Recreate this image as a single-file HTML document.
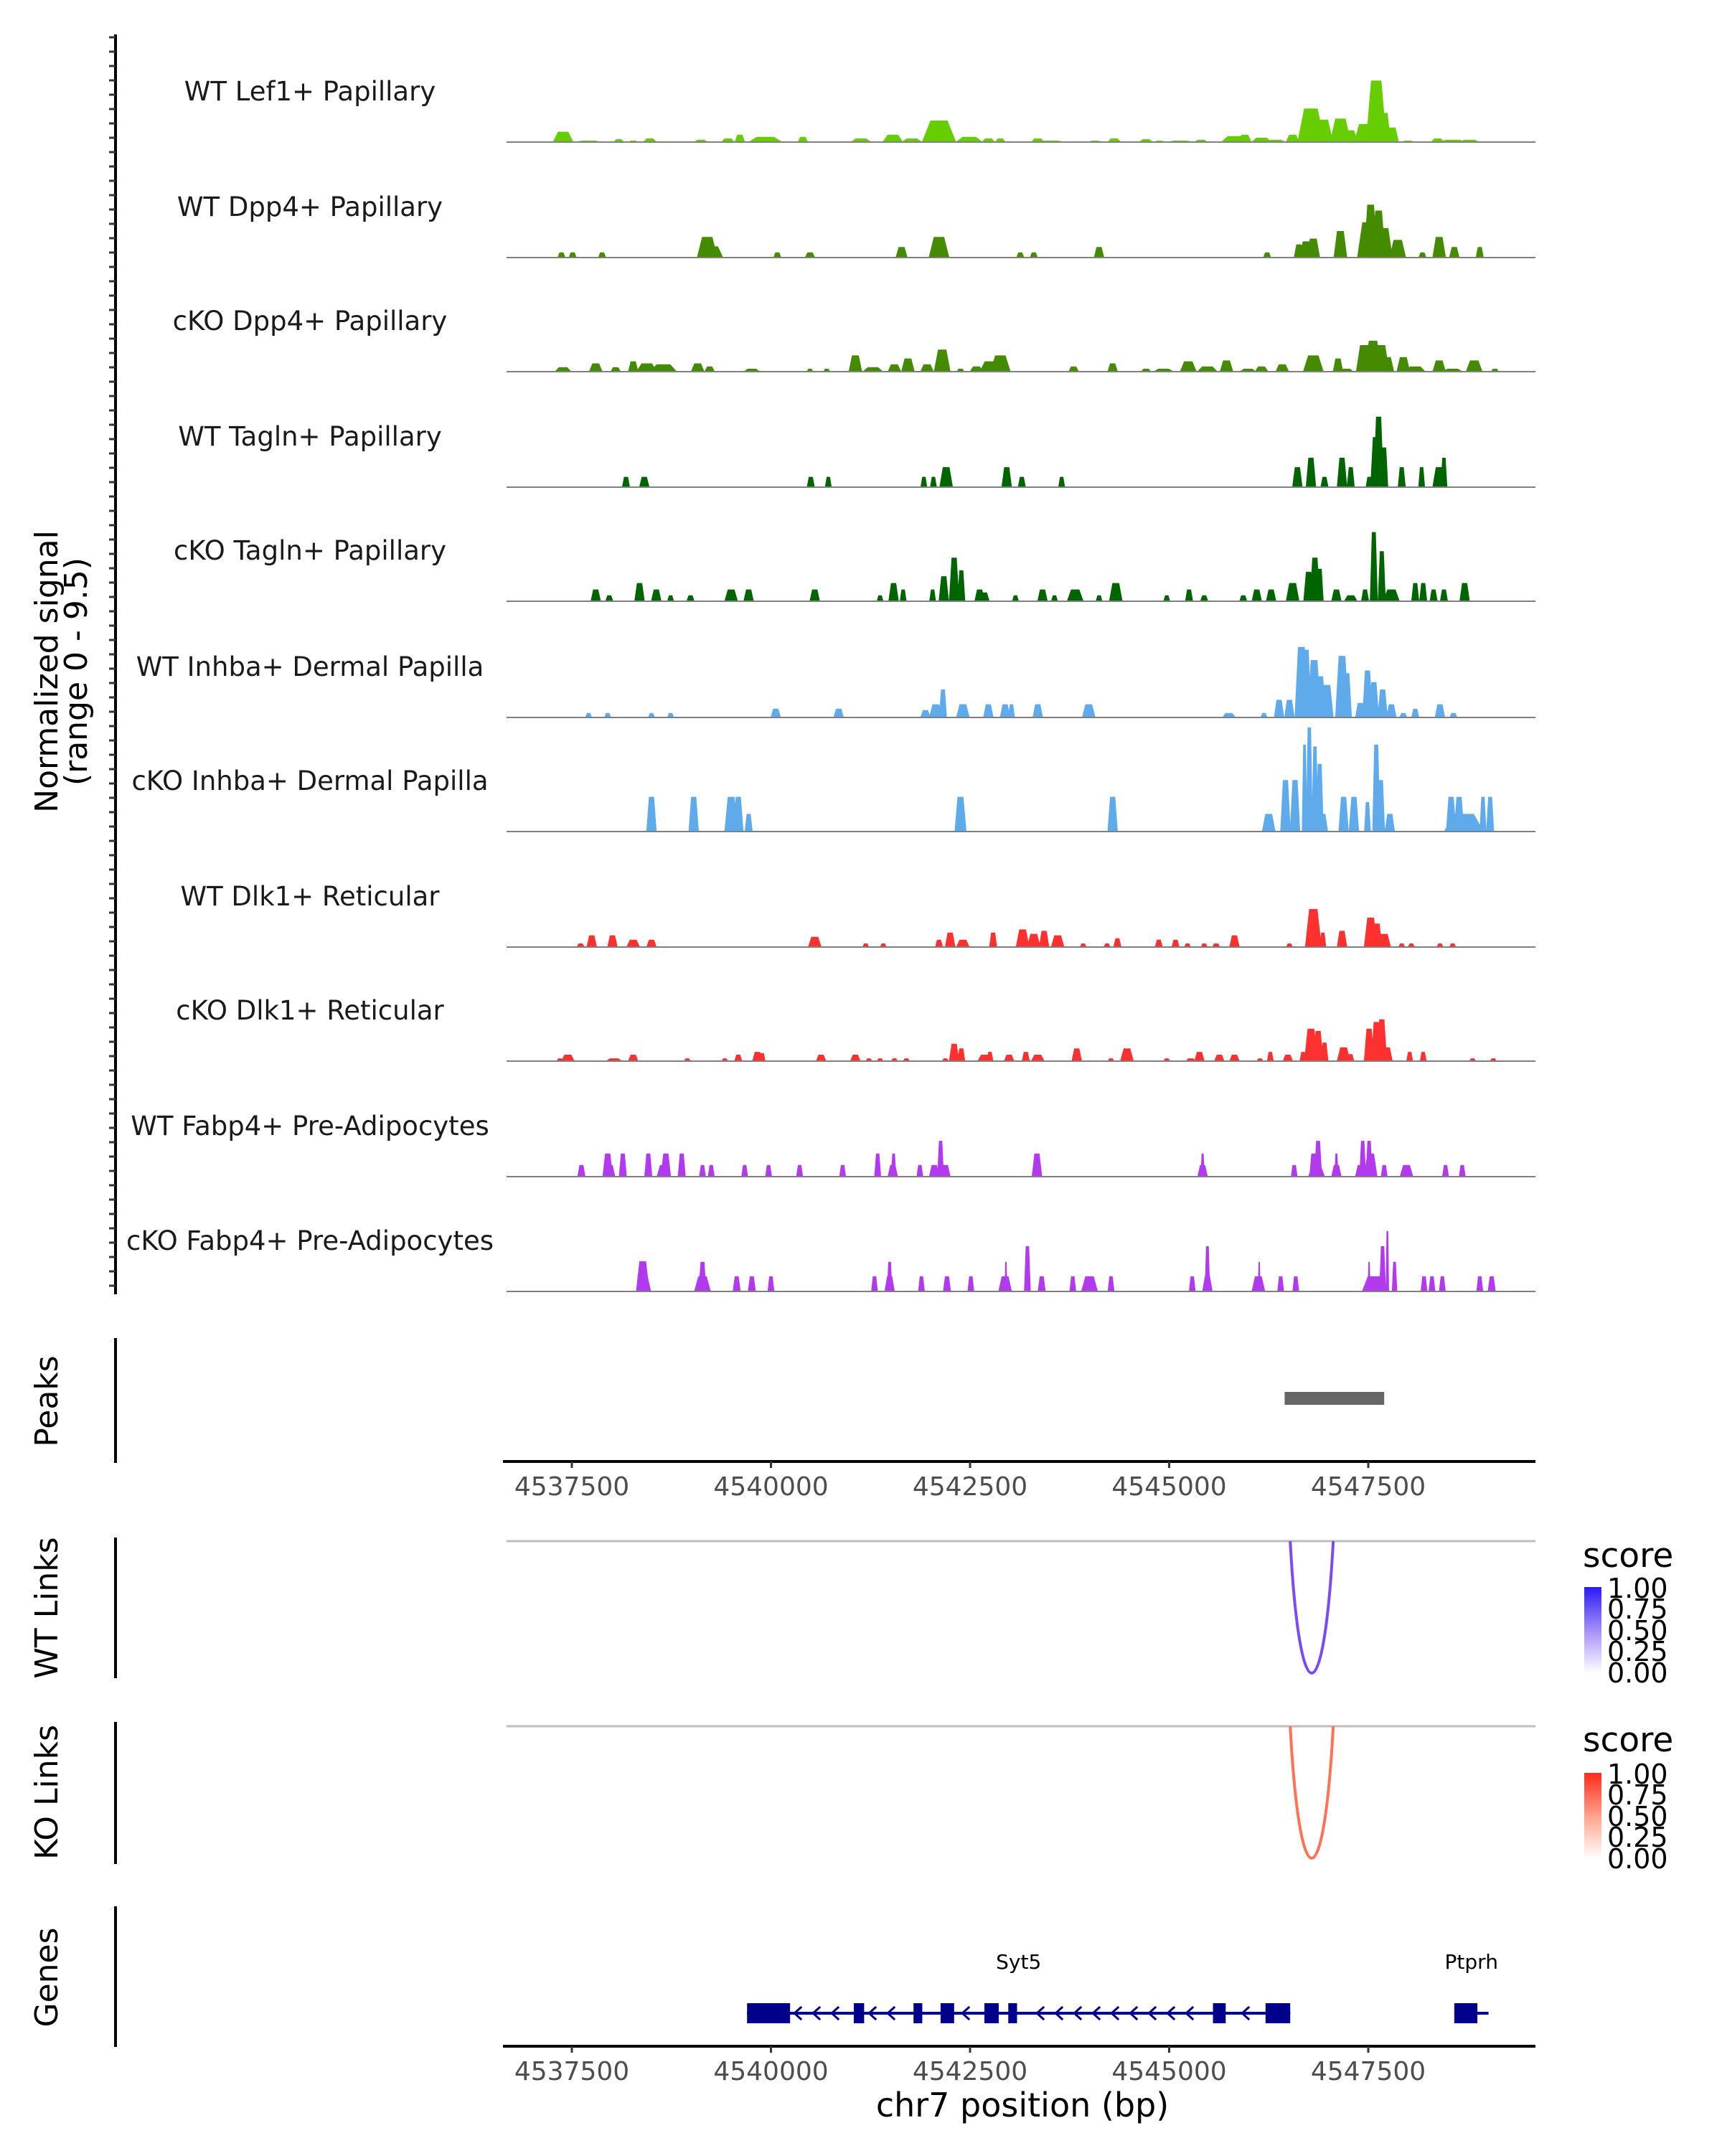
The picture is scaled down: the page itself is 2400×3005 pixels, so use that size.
<!DOCTYPE html>
<html><head><meta charset="utf-8"><style>
body{margin:0;background:#fff}
svg text{font-family:"DejaVu Sans","Liberation Sans",sans-serif}
</style></head><body>
<svg id="fig" xmlns="http://www.w3.org/2000/svg" width="2400" height="3000" viewBox="0 0 2400 3000">
<rect width="2400" height="3000" fill="#fff"/>
<g id="tracks"></g>
<g id="leftaxis"></g>
<text transform="translate(80,936) rotate(-90)" text-anchor="middle" font-size="44" fill="#000">Normalized signal</text>
<text transform="translate(121,936) rotate(-90)" text-anchor="middle" font-size="44" fill="#000">(range 0 - 9.5)</text>

<line x1="161" y1="1865" x2="161" y2="2039" stroke="#000" stroke-width="4"/>
<text transform="translate(80,1953) rotate(-90)" text-anchor="middle" font-size="44">Peaks</text>
<g id="peaks"></g>
<g id="topx"></g>

<line x1="161" y1="2143" x2="161" y2="2339" stroke="#000" stroke-width="4"/>
<text transform="translate(80,2241) rotate(-90)" text-anchor="middle" font-size="44">WT Links</text>
<line x1="161" y1="2400" x2="161" y2="2598" stroke="#000" stroke-width="4"/>
<text transform="translate(80,2498) rotate(-90)" text-anchor="middle" font-size="44">KO Links</text>
<g id="links"></g>

<defs>
<linearGradient id="gb" x1="0" y1="0" x2="0" y2="1"><stop offset="0" stop-color="#2a1af7"/><stop offset="0.5" stop-color="#a48ff7"/><stop offset="1" stop-color="#ffffff"/></linearGradient>
<linearGradient id="gr" x1="0" y1="0" x2="0" y2="1"><stop offset="0" stop-color="#ff2a1a"/><stop offset="0.5" stop-color="#ffa28c"/><stop offset="1" stop-color="#ffffff"/></linearGradient>
</defs>
<g>
<text x="2206" y="2184" font-size="47">score</text>
<rect x="2208" y="2212" width="24" height="120" fill="url(#gb)"/>
<g font-size="38" fill="#000" dominant-baseline="central">
<text x="2240" y="2214">1.00</text><text x="2240" y="2243">0.75</text><text x="2240" y="2273">0.50</text><text x="2240" y="2302">0.25</text><text x="2240" y="2332">0.00</text></g>
</g>
<g>
<text x="2206" y="2441" font-size="47">score</text>
<rect x="2208" y="2471" width="24" height="120" fill="url(#gr)"/>
<g font-size="38" fill="#000" dominant-baseline="central">
<text x="2240" y="2473">1.00</text><text x="2240" y="2502">0.75</text><text x="2240" y="2532">0.50</text><text x="2240" y="2561">0.25</text><text x="2240" y="2591">0.00</text></g>
</g>

<line x1="161" y1="2657" x2="161" y2="2853" stroke="#000" stroke-width="4"/>
<text transform="translate(80,2756) rotate(-90)" text-anchor="middle" font-size="44">Genes</text>
<g id="genes"></g>
<g id="botx"></g>
<text x="1425" y="2950" text-anchor="middle" font-size="46">chr7 position (bp)</text>
</svg>
<script>
// ---- data (positions in kb on chr7, widths in kb, values = normalized signal) ----
const trackNames = ["WT Lef1+ Papillary","WT Dpp4+ Papillary","cKO Dpp4+ Papillary","WT Tagln+ Papillary","cKO Tagln+ Papillary","WT Inhba+ Dermal Papilla","cKO Inhba+ Dermal Papilla","WT Dlk1+ Reticular","cKO Dlk1+ Reticular","WT Fabp4+ Pre-Adipocytes","cKO Fabp4+ Pre-Adipocytes"];
const trackColors = ["#66cd00","#458b00","#458b00","#006400","#006400","#5eaaea","#5eaaea","#ff3030","#ff3030","#b23aee","#b23aee"];
const xTicks = [4537500,4540000,4542500,4545000,4547500];
const t1 = [[4537.39,.26,.92],[4537.71,.34,.13],[4538.09,.13,.26],[4538.27,.13,.13],[4538.48,.17,.32],[4539.12,.17,.21],[4539.46,.17,.32],[4539.61,.13,.66],[4539.93,.43,.47],[4540.40,.13,.47],[4541.13,.26,.32],[4541.53,.26,.66],[4541.77,.26,.32],[4542.11,.43,1.92],[4542.49,.34,.47],[4542.73,.17,.32],[4542.88,.13,.32],[4543.35,.17,.32],[4543.52,.34,.13],[4544.07,.17,.13],[4544.31,.17,.32],[4544.71,.17,.26],[4544.88,.13,.13],[4545.14,.34,.13],[4545.40,.17,.21],[4545.82,.34,.53],[4545.95,.17,.66],[4546.16,.26,.39],[4546.34,.26,.21],[4546.55,.17,.66],[4546.78,.34,3.0],[4546.93,.26,2.0],[4547.15,.26,2.1],[4547.28,.17,1.05],[4547.45,.26,1.6],[4547.60,.26,5.5],[4547.70,.17,2.6],[4547.80,.17,1.3],[4548.00,.17,.13],[4548.37,.17,.32],[4548.56,.34,.21],[4548.77,.26,.21]];
const t2 = [[4537.37,.10,.47],[4537.51,.10,.47],[4537.88,.10,.47],[4539.20,.26,1.84],[4539.27,.26,1.0],[4540.08,.10,.47],[4540.49,.13,.47],[4541.64,.15,.95],[4542.11,.26,1.84],[4543.13,.10,.47],[4543.30,.10,.47],[4544.12,.13,.95],[4546.23,.10,.47],[4546.63,.13,1.18],[4546.72,.17,1.45],[4546.81,.17,1.7],[4547.15,.17,2.37],[4547.49,.26,3.16],[4547.53,.17,4.73],[4547.63,.17,4.2],[4547.70,.21,2.63],[4547.87,.21,1.58],[4548.18,.10,.47],[4548.39,.17,1.84],[4548.58,.13,.95],[4548.90,.10,.95]];
const t3 = [[4537.39,.21,.4],[4537.80,.17,.74],[4538.05,.13,.4],[4538.27,.13,.92],[4538.44,.26,.74],[4538.65,.34,.66],[4539.08,.17,.74],[4539.23,.13,.47],[4539.76,.21,.26],[4540.49,.085,.26],[4540.70,.085,.26],[4541.06,.17,1.45],[4541.28,.26,.4],[4541.55,.17,.66],[4541.72,.17,1.18],[4541.96,.17,.66],[4542.15,.21,1.97],[4542.38,.10,.26],[4542.58,.17,.47],[4542.75,.26,.92],[4542.88,.26,1.45],[4543.80,.13,.47],[4544.29,.13,.74],[4544.71,.13,.26],[4544.93,.26,.26],[4545.24,.21,.92],[4545.48,.26,.47],[4545.72,.17,1.0],[4545.99,.21,.26],[4546.16,.17,.47],[4546.42,.17,.66],[4546.81,.26,1.45],[4547.12,.13,1.18],[4547.23,.17,.26],[4547.45,.21,2.37],[4547.56,.21,2.76],[4547.66,.21,2.37],[4547.74,.17,1.3],[4547.94,.17,1.3],[4548.09,.26,.47],[4548.39,.17,1.0],[4548.56,.26,.26],[4548.83,.21,1.0],[4549.09,.10,.26]];
const t4 = [[4538.18,.10,.92],[4538.41,.13,.92],[4540.50,.10,.92],[4540.72,.085,.92],[4541.92,.085,.92],[4542.04,.085,.92],[4542.20,.17,1.79],[4542.96,.13,1.79],[4543.15,.10,.92],[4543.65,.085,.92],[4546.61,.13,1.79],[4546.78,.13,2.63],[4546.95,.10,.92],[4547.17,.13,2.63],[4547.28,.10,1.79],[4547.51,.085,.92],[4547.59,.13,4.47],[4547.63,.13,6.3],[4547.70,.10,3.55],[4547.92,.10,1.79],[4548.17,.085,1.79],[4548.39,.17,1.79],[4548.45,.085,2.63]];
const t5 = [[4537.80,.13,1.05],[4537.97,.10,.53],[4538.35,.13,1.63],[4538.56,.13,1.05],[4538.74,.085,.53],[4538.99,.10,.53],[4539.50,.17,1.05],[4539.72,.13,1.05],[4540.55,.13,1.05],[4541.37,.085,.53],[4541.54,.13,1.63],[4541.66,.085,1.05],[4542.03,.085,1.05],[4542.17,.13,2.24],[4542.30,.13,3.9],[4542.39,.10,2.76],[4542.62,.13,1.05],[4542.68,.13,.79],[4543.07,.085,.53],[4543.41,.13,1.05],[4543.56,.085,.53],[4543.82,.21,1.05],[4544.12,.085,.53],[4544.33,.17,1.63],[4544.97,.085,.53],[4545.25,.10,1.05],[4545.44,.10,.53],[4545.93,.10,.53],[4546.10,.13,1.05],[4546.28,.13,1.05],[4546.55,.17,1.63],[4546.75,.13,2.63],[4546.83,.13,3.9],[4546.89,.10,2.9],[4547.10,.13,1.05],[4547.28,.17,.53],[4547.46,.10,1.05],[4547.57,.10,6.18],[4547.67,.10,4.47],[4547.79,.21,1.05],[4548.09,.10,1.63],[4548.19,.10,1.63],[4548.32,.10,1.05],[4548.45,.10,1.05],[4548.71,.13,1.63]];
const t6 = [[4537.71,.085,.4],[4537.95,.085,.4],[4538.50,.085,.4],[4538.74,.085,.4],[4540.06,.13,.79],[4540.85,.13,.79],[4541.94,.13,.66],[4542.07,.17,1.18],[4542.16,.10,2.5],[4542.41,.17,1.18],[4542.73,.13,1.18],[4542.94,.13,1.18],[4543.02,.085,1.18],[4543.35,.13,1.18],[4543.99,.17,1.18],[4545.75,.17,.4],[4546.19,.085,.4],[4546.38,.13,1.58],[4546.51,.13,1.58],[4546.66,.17,6.3],[4546.72,.13,6.05],[4546.82,.17,5.13],[4546.89,.17,3.68],[4546.98,.17,2.9],[4547.17,.17,5.5],[4547.23,.13,3.95],[4547.40,.13,1.3],[4547.49,.13,4.2],[4547.57,.13,3.16],[4547.68,.13,2.5],[4547.79,.13,1.18],[4547.94,.10,.4],[4548.09,.10,.79],[4548.40,.13,1.18],[4548.57,.10,.4]];
const t7 = [[4538.50,.13,3.1],[4539.03,.13,3.1],[4539.50,.17,3.1],[4539.59,.13,3.1],[4539.72,.10,1.58],[4542.38,.15,3.1],[4544.29,.13,3.1],[4546.25,.17,1.58],[4546.46,.13,4.6],[4546.58,.13,4.6],[4546.70,.068,7.76],[4546.76,.085,9.3],[4546.83,.085,7.6],[4546.89,.10,6.05],[4546.93,.13,1.58],[4547.19,.13,3.1],[4547.32,.13,3.1],[4547.49,.085,2.63],[4547.60,.10,7.76],[4547.66,.10,4.6],[4547.77,.13,1.58],[4548.54,.13,3.1],[4548.64,.13,3.1],[4548.77,.13,1.58],[4548.94,.085,3.1],[4549.03,.10,3.1],[4548.70,.50,1.58]];
const t8 = [[4537.61,.10,.32],[4537.75,.13,1.05],[4538.01,.13,1.05],[4538.27,.17,.66],[4538.50,.13,.66],[4540.55,.17,.92],[4541.19,.085,.32],[4541.41,.085,.32],[4542.11,.10,.66],[4542.25,.13,1.3],[4542.41,.17,.66],[4542.79,.10,1.3],[4543.16,.17,1.58],[4543.30,.17,1.18],[4543.43,.13,1.45],[4543.60,.17,1.05],[4543.92,.085,.32],[4544.22,.085,.32],[4544.35,.10,.79],[4544.87,.10,.66],[4545.08,.10,.66],[4545.23,.085,.32],[4545.44,.085,.32],[4545.59,.10,.32],[4545.82,.13,1.05],[4546.51,.085,.32],[4546.81,.21,3.4],[4546.93,.085,1.3],[4547.17,.13,1.45],[4547.53,.17,2.63],[4547.61,.13,2.1],[4547.70,.17,1.18],[4547.92,.085,.32],[4548.04,.085,.32],[4548.40,.085,.32],[4548.56,.085,.32]];
const t9 = [[4537.35,.085,.25],[4537.45,.17,.58],[4538.03,.21,.25],[4538.27,.13,.58],[4538.95,.085,.25],[4539.42,.085,.25],[4539.59,.10,.58],[4539.83,.13,.83],[4539.89,.085,.72],[4540.63,.13,.58],[4541.06,.13,.58],[4541.23,.085,.25],[4541.37,.085,.25],[4541.55,.085,.25],[4541.70,.085,.25],[4542.19,.085,.25],[4542.30,.13,1.55],[4542.39,.10,1.14],[4542.68,.17,.58],[4542.75,.085,.83],[4542.99,.13,.58],[4543.20,.10,.83],[4543.35,.17,.58],[4543.84,.13,1.14],[4544.27,.085,.25],[4544.47,.17,1.14],[4544.97,.085,.25],[4545.27,.13,.25],[4545.38,.13,.83],[4545.63,.13,.58],[4545.82,.13,.58],[4546.14,.085,.25],[4546.27,.085,.83],[4546.49,.13,.58],[4546.68,.085,.83],[4546.78,.17,2.9],[4546.87,.13,2.7],[4546.95,.10,1.66],[4547.19,.17,1.24],[4547.28,.085,.62],[4547.51,.13,2.9],[4547.60,.13,3.5],[4547.67,.13,3.73],[4547.74,.13,1.24],[4548.02,.085,.83],[4548.19,.085,.83],[4548.81,.085,.25],[4549.07,.085,.25]];
const t10 = [[4537.62,.10,1.04],[4537.95,.13,2.07],[4537.98,.13,1.04],[4538.14,.10,2.07],[4538.46,.10,2.07],[4538.65,.17,1.04],[4538.68,.13,2.07],[4538.88,.10,2.07],[4539.14,.085,1.04],[4539.25,.085,1.04],[4539.67,.085,1.04],[4539.97,.085,1.04],[4540.36,.085,1.04],[4540.90,.085,1.04],[4541.34,.085,2.07],[4541.53,.13,1.04],[4541.54,.068,2.07],[4541.87,.085,1.04],[4542.05,.13,1.04],[4542.13,.085,3.2],[4542.19,.13,1.04],[4543.34,.13,2.07],[4545.42,.13,1.04],[4545.42,.05,2.07],[4546.57,.085,1.04],[4546.81,.10,2.07],[4546.85,.21,1.04],[4546.87,.10,3.2],[4547.10,.13,1.04],[4547.10,.05,2.07],[4547.40,.13,1.04],[4547.43,.085,3.2],[4547.51,.085,3.2],[4547.53,.17,2.07],[4547.70,.085,1.04],[4547.98,.17,1.04],[4548.47,.085,1.04],[4548.68,.085,1.04]];
const t11 = [[4538.39,.17,2.7],[4538.41,.17,1.35],[4539.14,.21,1.35],[4539.14,.10,2.65],[4539.57,.10,1.35],[4539.76,.10,1.35],[4540.00,.085,1.35],[4541.30,.085,1.35],[4541.49,.13,1.35],[4541.49,.068,2.65],[4541.89,.085,1.35],[4542.21,.10,1.35],[4542.51,.085,1.35],[4542.94,.17,1.35],[4542.95,.034,2.65],[4543.22,.085,4.04],[4543.40,.10,1.35],[4543.79,.085,1.35],[4544.00,.21,1.35],[4544.27,.085,1.35],[4545.29,.085,1.35],[4545.48,.13,1.35],[4545.48,.068,4.04],[4546.12,.17,1.35],[4546.13,.034,2.65],[4546.40,.085,1.35],[4546.59,.085,1.35],[4547.51,.034,2.65],[4547.57,.30,1.35],[4547.68,.085,4.04],[4547.74,.043,5.4],[4547.83,.068,2.65],[4548.20,.085,1.35],[4548.30,.085,1.35],[4548.43,.085,1.35],[4548.90,.085,1.35],[4549.05,.10,1.35]];
const allTracks = [t1,t2,t3,t4,t5,t6,t7,t8,t9,t10,t11];
const peakRegion = [4546.45, 4547.70];
const wtLink = [4546.52, 4547.06, 0.7];
const koLink = [4546.52, 4547.06, 0.7];
const sytExons = [[4539.70,4540.24],[4541.04,4541.17],[4541.79,4541.90],[4542.13,4542.30],[4542.68,4542.86],[4542.98,4543.09],[4545.55,4545.71],[4546.21,4546.52]];
const ptprhExons = [[4548.58,4548.87]];
const genesInfo = [["Syt5",4539.70,4546.52,-1],["Ptprh",4548.58,4549.01,1]];

// ---- scales ----
const X0 = 797, PXKB = 111, PANEL_L = 706, PANEL_R = 2140;
function x(kb){ return X0 + (kb - 4537.5) * PXKB; }
const baselines = [198,359,518,679,838,1000,1159,1320,1479,1640,1800];
const PXU = 15.6;
function y(v, b){ return b - v * PXU; }
const NS = "http://www.w3.org/2000/svg";
function mk(tag, attrs, parent){ const e = document.createElementNS(NS, tag); for (const k in attrs) e.setAttribute(k, attrs[k]); parent.appendChild(e); return e; }

const tracksG = document.getElementById('tracks');
allTracks.forEach((tr, i) => {
  const b = baselines[i];
  const g = mk('g', {}, tracksG);
  
  
  const lbl = mk('text', {x: 432, y: b - 58, 'text-anchor': 'middle', 'font-size': 37, fill: '#1a1a1a'}, g);
  lbl.textContent = trackNames[i];
  
  
  let d = '';
  tr.forEach(p => {
    const [pos, w, v] = p;
    const a = x(pos - w / 2), c = x(pos + w / 2), tA = x(pos - w / 4), tB = x(pos + w / 4), top = y(v, b);
    d += `M${a.toFixed(1)},${b}L${tA.toFixed(1)},${top.toFixed(1)}L${tB.toFixed(1)},${top.toFixed(1)}L${c.toFixed(1)},${b}Z`;
  });
  const path = mk('path', {d: d, fill: trackColors[i]}, g);
  
  
  const bl = mk('line', {x1: PANEL_L, x2: PANEL_R, y1: b, y2: b, stroke: '#808080', 'stroke-width': 2}, g);
  
  
});

// left axis
const la = document.getElementById('leftaxis');
mk('line', {x1: 161, y1: 48, x2: 161, y2: 1804, stroke: '#000', 'stroke-width': 4}, la);
for (let ty = 52; ty <= 1802; ty += 20) {
  mk('line', {x1: 152, y1: ty.toFixed(1), x2: 161, y2: ty.toFixed(1), stroke: '#333', 'stroke-width': 3}, la);
}

// peaks
const pk = mk('rect', {x: x(peakRegion[0]), y: 1940, width: x(peakRegion[1]) - x(peakRegion[0]), height: 18, fill: '#666'}, document.getElementById('peaks'));



function xaxis(gid, yl){
  const g = document.getElementById(gid);
  mk('line', {x1: PANEL_L - 5, x2: PANEL_R, y1: yl, y2: yl, stroke: '#000', 'stroke-width': 4}, g);
  xTicks.forEach(t => {
    const xx = x(t / 1000);
    mk('line', {x1: xx, x2: xx, y1: yl, y2: yl + 9, stroke: '#333', 'stroke-width': 3}, g);
    const tl = mk('text', {x: xx, y: yl + 47, 'text-anchor': 'middle', 'font-size': 36, fill: '#4d4d4d'}, g);
    tl.textContent = t;
    
    
  });
}
xaxis('topx', 2037);
xaxis('botx', 2852);

// links
const lg = document.getElementById('links');
function link(l, top, col, name){
  mk('line', {x1: PANEL_L, x2: PANEL_R, y1: top, y2: top, stroke: '#bebebe', 'stroke-width': 3}, lg);
  const a = x(l[0]), c = x(l[1]), depth = 184;
  const p = mk('path', {d: `M${a},${top} C${a + (c - a) * 0.22},${top + depth * 1.333} ${a + (c - a) * 0.78},${top + depth * 1.333} ${c},${top}`, fill: 'none', stroke: col, 'stroke-width': 4}, lg);
  
  
}
link(wtLink, 2148, '#7b4af7', 'wt-link-arc');
link(koLink, 2406, '#ff7256', 'ko-link-arc');

// genes
const gg = document.getElementById('genes');
const GY = 2806, GC = '#00008b';
genesInfo.forEach(gi => {
  const [nm, s, e, strand] = gi;
  mk('line', {x1: x(s), x2: x(e), y1: GY, y2: GY, stroke: GC, 'stroke-width': 4}, gg);
  const t = mk('text', {x: x((s + e) / 2), y: 2744, 'text-anchor': 'middle', 'font-size': 28, fill: '#000'}, gg);
  t.textContent = nm;
  
  
  const ex = nm === 'Syt5' ? sytExons : ptprhExons;
  if (strand < 0) {
    for (let px = x(s) + 70; px < x(e) - 30; px += 26) {
      const kb = 4537.5 + (px - X0) / PXKB;
      if (ex.some(r => kb > r[0] - 0.08 && kb < r[1] + 0.08)) continue;
      mk('polyline', {points: `${px + 6},${GY - 9} ${px - 4},${GY} ${px + 6},${GY + 9}`, fill: 'none', stroke: GC, 'stroke-width': 3}, gg);
    }
  }
  ex.forEach(r => {
    const re = mk('rect', {x: x(r[0]), y: GY - 14, width: x(r[1]) - x(r[0]), height: 28, fill: GC}, gg);
    
    
  });
});
</script>
</body></html>
